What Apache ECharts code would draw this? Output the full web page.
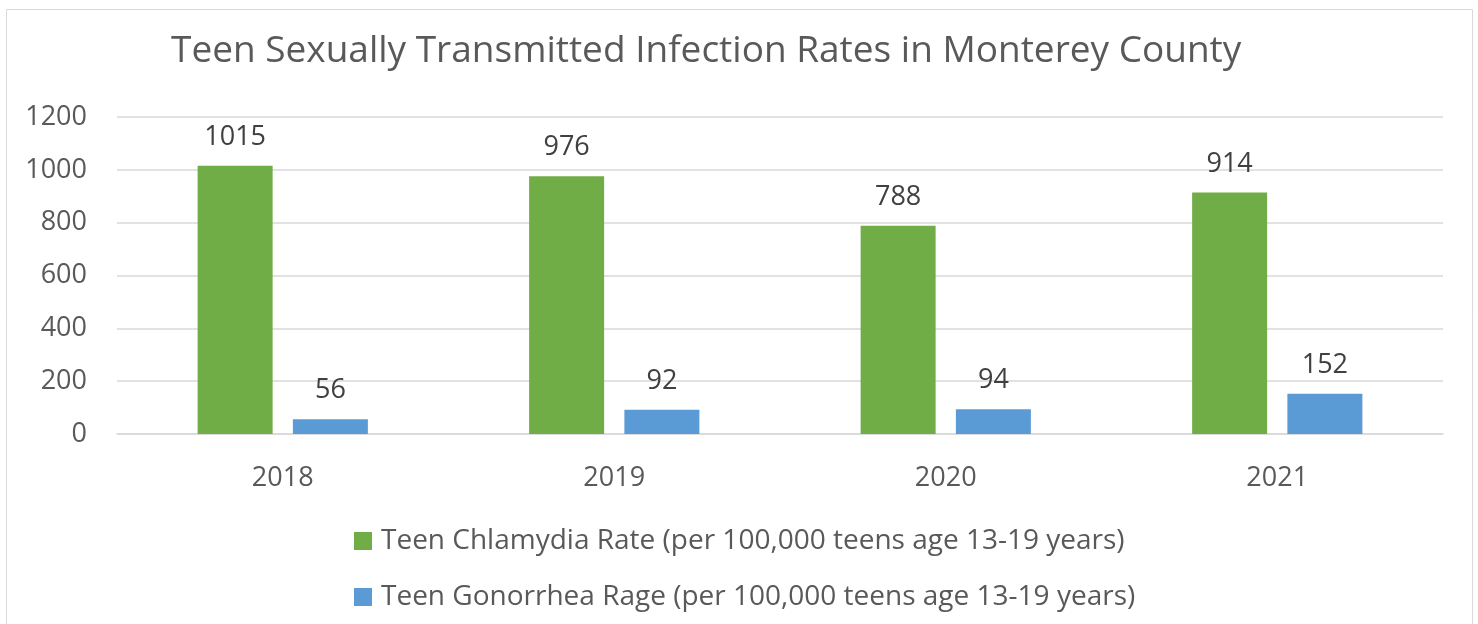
<!DOCTYPE html>
<html>
<head>
<meta charset="utf-8">
<script src="https://cdn.jsdelivr.net/npm/echarts@6/dist/echarts.min.js"></script>
<style>
  html, body { margin: 0; padding: 0; background: #fff; }
  #chart { width: 1478px; height: 624px; }
</style>
</head>
<body>
<div id="chart"></div>
<script>
var years = ['2018', '2019', '2020', '2021']
var chlamydia = [1015, 976, 788, 914]
var gonorrhea = [56, 92, 94, 152]
var yTicks = [0, 200, 400, 600, 800, 1000, 1200]

var font = '"Open Sans", sans-serif'
var chart = echarts.init(document.getElementById('chart'))
chart.setOption({
  animation: false,
  graphic: [{
    type: 'rect',
    shape: { x: 6.5, y: 9.5, width: 1466, height: 640 },
    style: { fill: 'none', stroke: '#d9d9d9', lineWidth: 1 }
  }],
  title: {
    text: 'Teen Sexually Transmitted Infection Rates in Monterey County',
    left: 171,
    top: 33,
    padding: 0,
    textStyle: { fontFamily: font, fontSize: 37, fontWeight: 'normal', color: '#595959' }
  },
  legend: {
    orient: 'vertical',
    left: 354,
    top: 527,
    padding: 0,
    itemWidth: 18,
    itemHeight: 18,
    itemGap: 28,
    icon: 'rect',
    textStyle: { fontFamily: font, fontSize: 28, color: '#595959', padding: [0, 0, 0, 4] },
    data: ['Teen Chlamydia Rate (per 100,000 teens age 13-19 years)', 'Teen Gonorrhea Rage (per 100,000 teens age 13-19 years)']
  },
  grid: { left: 117, right: 35, top: 117, height: 317, containLabel: false },
  xAxis: {
    type: 'category',
    data: years,
    axisLine: { lineStyle: { color: '#d9d9d9', width: 1.5 } },
    axisTick: { show: false },
    axisLabel: { fontFamily: font, fontSize: 27, color: '#595959', margin: 31 }
  },
  yAxis: {
    type: 'value',
    min: yTicks[0],
    max: yTicks[yTicks.length - 1],
    interval: 200,
    axisLine: { show: false },
    axisTick: { show: false },
    splitLine: { lineStyle: { color: '#d9d9d9', width: 1.5 } },
    axisLabel: { fontFamily: font, fontSize: 27, color: '#595959', margin: 30, formatter: function (v) { return String(v) } }
  },
  series: [
    {
      name: 'Teen Chlamydia Rate (per 100,000 teens age 13-19 years)',
      type: 'bar',
      data: chlamydia,
      barWidth: 75,
      barGap: '27%',
      itemStyle: { color: '#70ad47' },
      label: { show: true, position: 'top', distance: 15, fontFamily: font, fontSize: 27, color: '#404040' }
    },
    {
      name: 'Teen Gonorrhea Rage (per 100,000 teens age 13-19 years)',
      type: 'bar',
      data: gonorrhea,
      barWidth: 75,
      itemStyle: { color: '#5b9bd5' },
      label: { show: true, position: 'top', distance: 15, fontFamily: font, fontSize: 27, color: '#404040' }
    }
  ]
})
</script>
</body>
</html>
